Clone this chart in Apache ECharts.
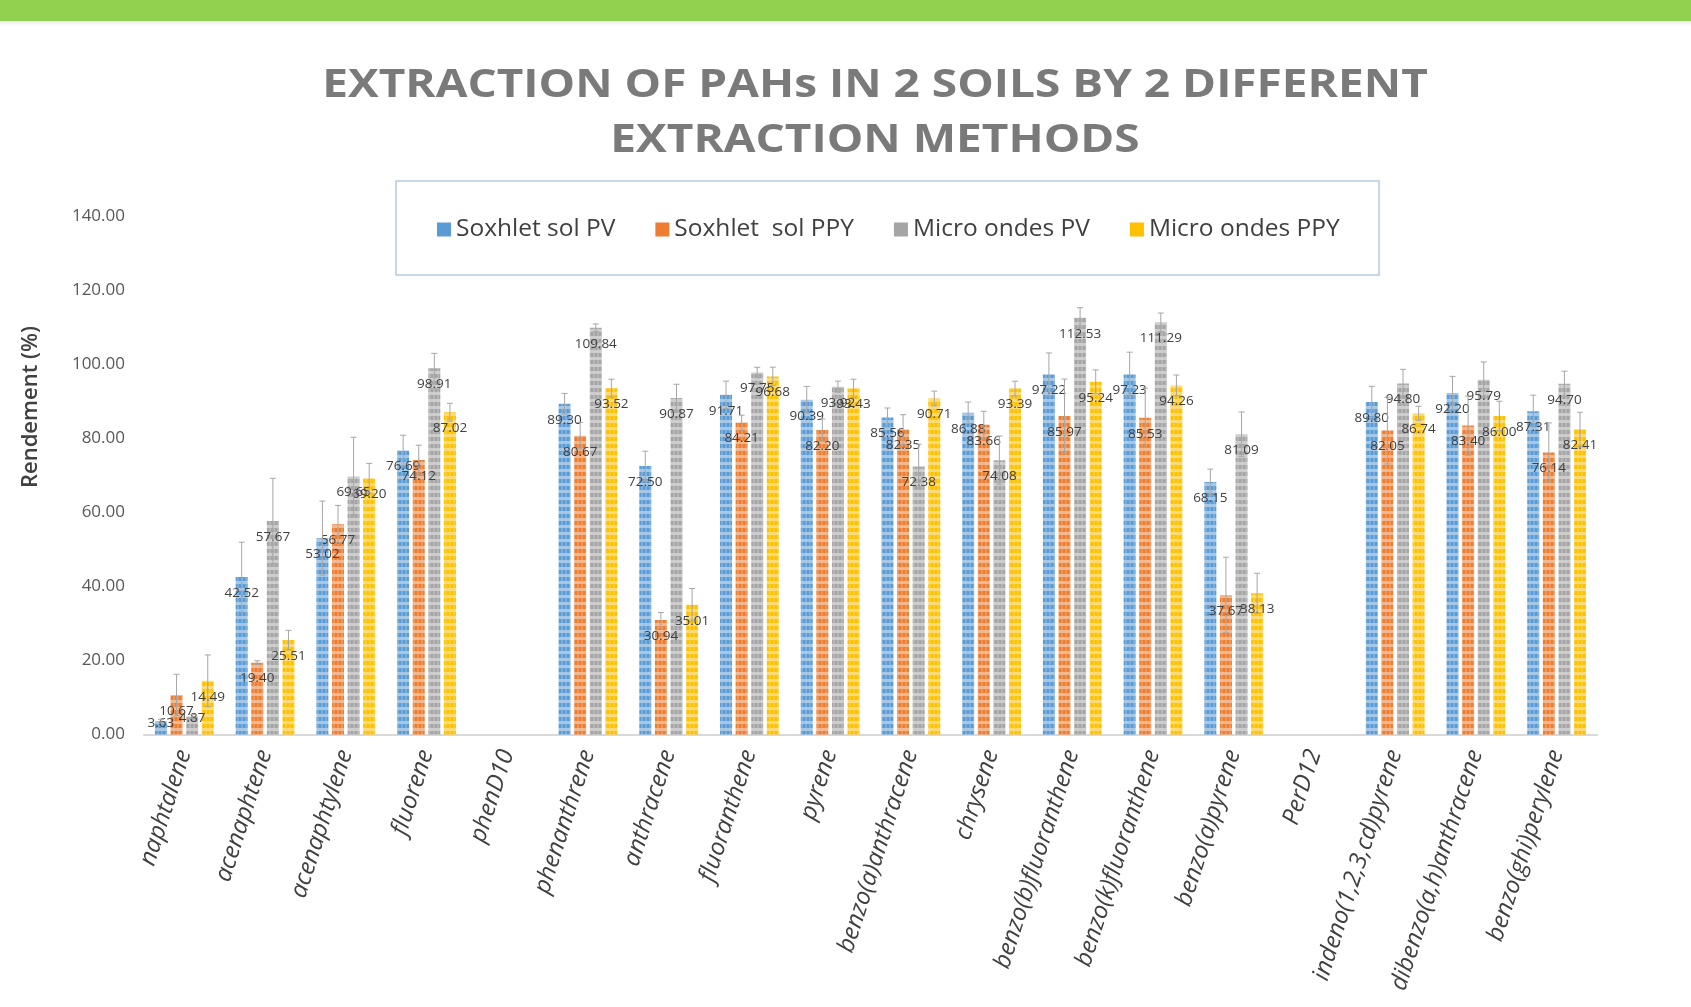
<!DOCTYPE html>
<html>
<head>
<meta charset="utf-8">
<title>Extraction of PAHs</title>
<script src="https://cdn.jsdelivr.net/npm/echarts@6/dist/echarts.min.js"></script>
<style>
  html, body { margin: 0; padding: 0; background: #fff; }
  #chart { width: 1691px; height: 1007px; }
</style>
</head>
<body>
<div id="chart"></div>
<script>
// categories (PAHs)
var categories = ['naphtalene', 'acenaphtene', 'acenaphtylene', 'fluorene', 'phenD10',
  'phenanthrene', 'anthracene', 'fluoranthene', 'pyrene', 'benzo(a)anthracene', 'chrysene',
  'benzo(b)fluoranthene', 'benzo(k)fluoranthene', 'benzo(a)pyrene', 'PerD12',
  'indeno(1,2,3,cd)pyrene', 'dibenzo(a,h)anthracene', 'benzo(ghi)perylene'];

var seriesNames = ['Soxhlet sol PV', 'Soxhlet  sol PPY', 'Micro ondes PV', 'Micro ondes PPY'];

// rendement (%)
var soxPV = [3.63, 42.52, 53.02, 76.69, null, 89.30, 72.50, 91.71, 90.39, 85.56, 86.88, 97.22, 97.23, 68.15, null, 89.80, 92.20, 87.31];
var soxPPY = [10.67, 19.40, 56.77, 74.12, null, 80.67, 30.94, 84.21, 82.20, 82.35, 83.66, 85.97, 85.53, 37.67, null, 82.05, 83.40, 76.14];
var microPV = [4.87, 57.67, 69.65, 98.91, null, 109.84, 90.87, 97.75, 93.92, 72.38, 74.08, 112.53, 111.29, 81.09, null, 94.80, 95.79, 94.70];
var microPPY = [14.49, 25.51, 69.20, 87.02, null, 93.52, 35.01, 96.68, 93.43, 90.71, 93.39, 95.24, 94.26, 38.13, null, 86.74, 86.00, 82.41];

// error bars (+/-)
var errSoxPV = [0.5, 9.4, 10, 4.1, null, 2.8, 4, 3.7, 3.6, 2.6, 2.9, 5.8, 6, 3.5, null, 4.2, 4.5, 4.3];
var errSoxPPY = [5.6, 0.5, 5.1, 4, null, 3.6, 2, 2, 3, 4, 3.6, 10, 8, 10.2, null, 9, 8, 8];
var errMicroPV = [0.5, 11.5, 10.6, 4, null, 1, 3.7, 1.4, 1.5, 6, 6.5, 2.7, 2.5, 6, null, 3.8, 4.8, 3.4];
var errMicroPPY = [7, 2.6, 4, 2.4, null, 2.4, 4.4, 2.5, 2.5, 2, 2, 3.2, 2.8, 5.4, null, 1.9, 4, 4.6];

var colors = ['#5b9bd5', '#ed7d31', '#a5a5a5', '#ffc000'];
var values = [soxPV, soxPPY, microPV, microPPY];
var errors = [errSoxPV, errSoxPPY, errMicroPV, errMicroPPY];

var BAR_W = 12;
var STEP = BAR_W * 1.3;

// striped fill like the excel pattern
function makePattern(base) {
  var c = document.createElement('canvas');
  c.width = 4;
  c.height = 7;
  var ctx = c.getContext('2d');
  ctx.fillStyle = base;
  ctx.fillRect(0, 0, 4, 7);
  ctx.fillStyle = 'rgba(255,255,255,0.45)';
  ctx.fillRect(0, 0, 4, 3);
  ctx.fillStyle = 'rgba(255,255,255,0.18)';
  ctx.fillRect(1, 3, 2, 4);
  return { image: c, repeat: 'repeat' };
}

var chart = echarts.init(document.getElementById('chart'));

var series = [];
values.forEach(function (vals, i) {
  series.push({
    name: seriesNames[i],
    type: 'bar',
    barWidth: BAR_W,
    barGap: '30%',
    itemStyle: { color: makePattern(colors[i]) },
    label: {
      show: true,
      position: 'insideTop',
      distance: 5,
      offset: [0, 4],
      color: '#404040',
      fontSize: 13.5,
      fontFamily: 'Open Sans',
      formatter: function (p) {
        return typeof p.value === 'number' ? p.value.toFixed(2) : '';
      }
    },
    data: vals.map(function (v) {
      if (v == null) return '-';
      if (v < 6) return { value: v, label: { offset: [0, -10] } };
      return v;
    })
  });
});

// error bars
values.forEach(function (vals, i) {
  var data = [];
  vals.forEach(function (v, k) {
    if (v != null) data.push([k, v - errors[i][k], v + errors[i][k]]);
  });
  series.push({
    type: 'custom',
    z: 3,
    silent: true,
    data: data,
    renderItem: function (params, api) {
      var off = (i - 1.5) * STEP;
      var lo = api.coord([api.value(0), api.value(1)]);
      var hi = api.coord([api.value(0), api.value(2)]);
      var x = lo[0] + off;
      var st = { stroke: '#a6a6a6', lineWidth: 1 };
      return {
        type: 'group',
        children: [
          { type: 'line', shape: { x1: x, y1: lo[1], x2: x, y2: hi[1] }, style: st },
          { type: 'line', shape: { x1: x - 3, y1: hi[1], x2: x + 3, y2: hi[1] }, style: st },
          { type: 'line', shape: { x1: x - 3, y1: lo[1], x2: x + 3, y2: lo[1] }, style: st }
        ]
      };
    }
  });
});

var titleFont = 'bold 40px "Open Sans"';

var option = {
  animation: false,
  backgroundColor: '#ffffff',
  textStyle: { fontFamily: 'Open Sans' },
  graphic: [
    { type: 'rect', shape: { x: 0, y: 0, width: 1691, height: 21 }, style: { fill: '#92d050' } },
    {
      type: 'rect', shape: { x: 0, y: 21, width: 1691, height: 5 },
      style: {
        fill: new echarts.graphic.LinearGradient(0, 0, 0, 1, [
          { offset: 0, color: 'rgba(0,0,0,0.08)' },
          { offset: 1, color: 'rgba(0,0,0,0)' }
        ])
      }
    },
    {
      type: 'text', x: 875, y: 86, scaleX: 1.15,
      style: {
        text: 'EXTRACTION OF PAHs IN 2 SOILS BY 2 DIFFERENT', fill: '#7a7a7a',
        font: titleFont, textAlign: 'center', textVerticalAlign: 'middle'
      }
    },
    {
      type: 'text', x: 875, y: 141, scaleX: 1.15,
      style: {
        text: 'EXTRACTION METHODS', fill: '#7a7a7a',
        font: titleFont, textAlign: 'center', textVerticalAlign: 'middle'
      }
    },
    {
      type: 'rect', shape: { x: 396, y: 181, width: 983, height: 94 },
      style: { fill: 'none', stroke: '#b7cbe0', lineWidth: 1.5 }
    },
    {
      type: 'text', x: 31, y: 407, rotation: Math.PI / 2,
      style: {
        text: 'Rendement (%)', fill: '#404040',
        font: '600 22px "Open Sans"', textAlign: 'center', textVerticalAlign: 'middle'
      }
    }
  ],
  legend: {
    left: 432,
    top: 212,
    itemWidth: 14,
    itemHeight: 14,
    itemGap: 40,
    icon: 'rect',
    textStyle: { fontSize: 24.5, color: '#404040', fontFamily: 'Open Sans' },
    data: seriesNames.map(function (n, i) {
      return { name: n, itemStyle: { color: colors[i] } };
    })
  },
  grid: { left: 144, right: 94, top: 216, bottom: 272.5 },
  xAxis: {
    type: 'category',
    data: categories,
    axisTick: { show: false },
    axisLine: { lineStyle: { color: '#d9d9d9', width: 2 } },
    axisLabel: {
      interval: 0,
      rotate: 72,
      margin: 16,
      fontStyle: 'italic',
      fontSize: 24,
      color: '#404040',
      fontFamily: 'Open Sans'
    }
  },
  yAxis: {
    type: 'value',
    min: 0,
    max: 140,
    interval: 20,
    axisLine: { show: false },
    axisTick: { show: false },
    splitLine: { show: false },
    axisLabel: {
      margin: 19,
      fontSize: 17,
      color: '#595959',
      fontFamily: 'Open Sans',
      formatter: function (v) { return v.toFixed(2); }
    }
  },
  series: series
};

chart.setOption(option);
window.addEventListener('resize', function () { chart.resize(); });
</script>
</body>
</html>
